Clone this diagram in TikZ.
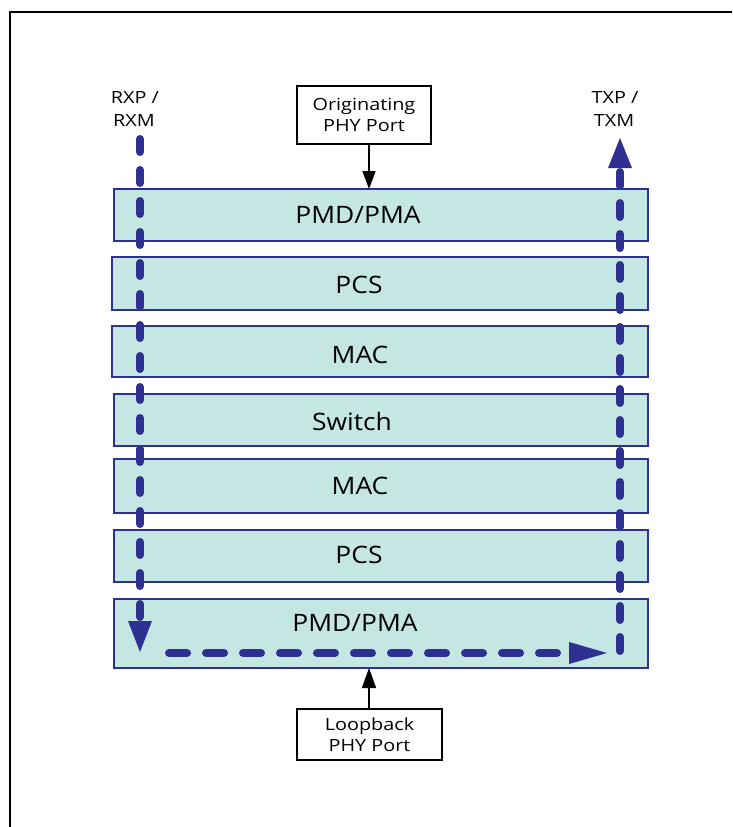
\documentclass[tikz,border=0pt]{standalone}
\usepackage{fontspec}
\setmainfont{Open Sans}
\newfontfamily\bigfnt{Open Sans}[FakeStretch=1.1]
\newfontfamily\smallfnt{Open Sans}[FakeStretch=1.18]
\usetikzlibrary{arrows.meta}
\definecolor{layerfill}{HTML}{C4E7E3}
\definecolor{navy}{HTML}{2E3192}
\tikzset{
  layer/.style={draw=navy, line width=1.6pt, fill=layerfill, rectangle, inner sep=0pt, outer sep=0pt},
  lbl/.style={font=\bigfnt\fontsize{24}{28}\selectfont, anchor=base, inner sep=0pt},
  portbox/.style={draw=black, line width=1.5pt, fill=white, rectangle, inner sep=0pt, outer sep=0pt, align=center, font=\smallfnt\fontsize{16.8}{21.5}\selectfont},
  sidelbl/.style={font=\smallfnt\fontsize{16.8}{21.5}\selectfont, anchor=base, inner sep=0pt},
  flow/.style={draw=navy, line width=8pt, line cap=round},
}
\begin{document}
\begin{tikzpicture}[x=1pt,y=-1pt]
\useasboundingbox (0,0) rectangle (732,827);
% frame
\draw[line width=2pt] (9.5,827) -- (9.5,12) -- (732,12);
% layer boxes
\node[layer, minimum width=534pt, minimum height=52pt] (l1) at (381,215) {};
\node[layer, minimum width=536pt, minimum height=53pt] (l2) at (380,283.5) {};
\node[layer, minimum width=536pt, minimum height=51pt] (l3) at (380,351.5) {};
\node[layer, minimum width=534pt, minimum height=52pt] (l4) at (381,420) {};
\node[layer, minimum width=534pt, minimum height=54pt] (l5) at (381,486) {};
\node[layer, minimum width=534pt, minimum height=52pt] (l6) at (381,556) {};
\node[layer, minimum width=534pt, minimum height=69pt] (l7) at (381,633.5) {};
% labels
\node[lbl] (t1) at (358,223) {PMD/PMA};
\node[lbl] (t2) at (359,293) {PCS};
\node[lbl] (t3) at (360,363) {MAC};
\node[lbl] (t4) at (352,430) {Switch};
\node[lbl] (t5) at (360,494) {MAC};
\node[lbl] (t6) at (359,563) {PCS};
\node[lbl] (t7) at (355,631) {PMD/PMA};
% port boxes
\node[portbox, minimum width=134pt, minimum height=58pt] (orig) at (364,115) {Originating\\PHY Port};
\node[portbox, minimum width=145pt, minimum height=51pt] (loop) at (369.5,734.5) {Loopback\\PHY Port};
\draw[line width=1.5pt, -{Triangle[length=18pt,width=13pt]}] (orig.south -| 369,0) -- (l1.north -| 369,0);
\draw[line width=1.5pt, -{Triangle[length=20pt,width=14pt]}] (loop.north -| 369,0) -- (l7.south -| 369,0);
% side labels
\node[sidelbl] (rx1) at (135,103) {RXP /};
\node[sidelbl] (rx2) at (134,126) {RXM};
\node[sidelbl] (tx1) at (615,103) {TXP /};
\node[sidelbl] (tx2) at (614,126) {TXM};
% flow lines
\coordinate (rxs) at (140,139);
\coordinate (rxe) at (140,621);
\coordinate (rxt) at (140,652);
\coordinate (hs) at (169,653);
\coordinate (he) at (569,653);
\coordinate (ht) at (607,653);
\coordinate (txs) at (620,651);
\coordinate (txe) at (620,168);
\coordinate (txt) at (620,138);
\draw[flow, dash pattern=on 13pt off 18pt] (rxs) -- (rxe);
\fill[navy] (rxt) -- ++(-12,-31) -- ++(24,0) -- cycle;
\draw[flow, dash pattern=on 18pt off 19pt] (hs) -- ([xshift=-6pt]he);
\fill[navy] (ht) -- ++(-38,-11) -- ++(0,22) -- cycle;
\draw[flow, dash pattern=on 14pt off 17pt] (txs) -- ([yshift=4pt]txe);
\fill[navy] (txt) -- ++(-12,30) -- ++(24,0) -- cycle;
\end{tikzpicture}
\end{document}
